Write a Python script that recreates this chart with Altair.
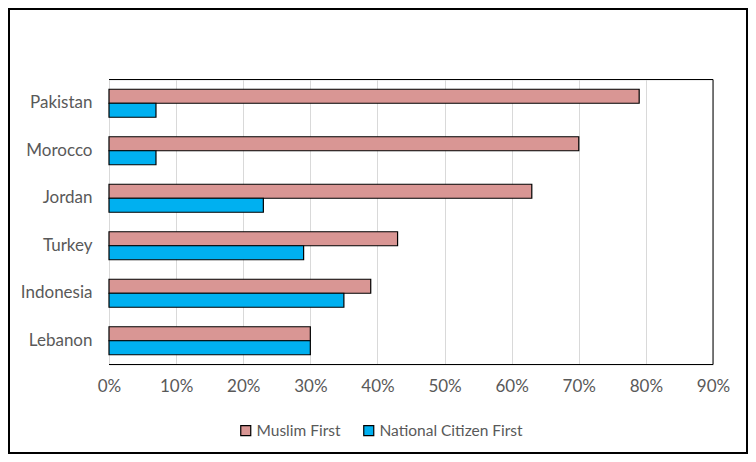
import altair as alt
import pandas as pd

countries = ["Pakistan", "Morocco", "Jordan", "Turkey", "Indonesia", "Lebanon"]
muslim_first = [79, 70, 63, 43, 39, 30]
citizen_first = [7, 7, 23, 29, 35, 30]
series = ["Muslim First", "National Citizen First"]
colors = ["#D99694", "#00B0F0"]

rows = []
for c, m, n in zip(countries, muslim_first, citizen_first):
    rows.append({"country": c, "series": series[0], "value": m / 100})
    rows.append({"country": c, "series": series[1], "value": n / 100})
df = pd.DataFrame(rows)

FONT = "Lato"
W, H = 604, 285

bars = alt.Chart(df).mark_bar(stroke="black", strokeWidth=1.2).encode(
    y=alt.Y("country:N", sort=countries, title=None,
            scale=alt.Scale(paddingInner=0.41, paddingOuter=0.205),
            axis=alt.Axis(domain=False, ticks=False, labelPadding=17,
                          labelFont=FONT, labelFontSize=17, labelColor="#595959")),
    yOffset=alt.YOffset("series:N", sort=series,
                        scale=alt.Scale(paddingInner=0, paddingOuter=0)),
    x=alt.X("value:Q", title=None,
            scale=alt.Scale(domain=[0, 0.9], nice=False),
            axis=alt.Axis(format=".0%", values=[i / 10 for i in range(10)],
                          domain=False, ticks=False, labelPadding=14, labelFlush=False,
                          labelFont=FONT, labelFontSize=17, labelColor="#595959",
                          grid=True, gridColor="#D9D9D9", gridWidth=1)),
    color=alt.Color("series:N", sort=series,
                    scale=alt.Scale(domain=series, range=colors),
                    legend=alt.Legend(title=None, orient="none", direction="horizontal",
                                      legendX=129, legendY=343,
                                      symbolType="square", symbolSize=100,
                                      symbolStrokeColor="black", symbolStrokeWidth=1.2,
                                      labelFont=FONT, labelFontSize=15.5, labelColor="#595959",
                                      columnPadding=20, labelOffset=3)),
)

one = pd.DataFrame({"k": [0]})
frame = alt.Chart(one).mark_rect(fill=None, stroke="black", strokeWidth=2).encode(
    x=alt.value(-100), x2=alt.value(638), y=alt.value(-70.5), y2=alt.value(373.5)
)
top_rule = alt.Chart(one).mark_rule(color="black", strokeWidth=1).encode(
    x=alt.value(0), x2=alt.value(W), y=alt.value(0))
bottom_rule = alt.Chart(one).mark_rule(color="black", strokeWidth=1).encode(
    x=alt.value(0), x2=alt.value(W), y=alt.value(H))
right_rule = alt.Chart(one).mark_rule(color="black", strokeWidth=1).encode(
    x=alt.value(W), y=alt.value(0), y2=alt.value(H))

chart = alt.layer(bars, top_rule, bottom_rule, right_rule, frame).properties(
    width=W, height=H,
    autosize=alt.AutoSizeParams(type="none"),
    padding={"left": 101, "top": 71.5, "right": 35, "bottom": 89.5},
).configure_view(stroke=None).configure(background="white")

chart.save("out.html", embed_options={"renderer": "svg", "actions": False})
